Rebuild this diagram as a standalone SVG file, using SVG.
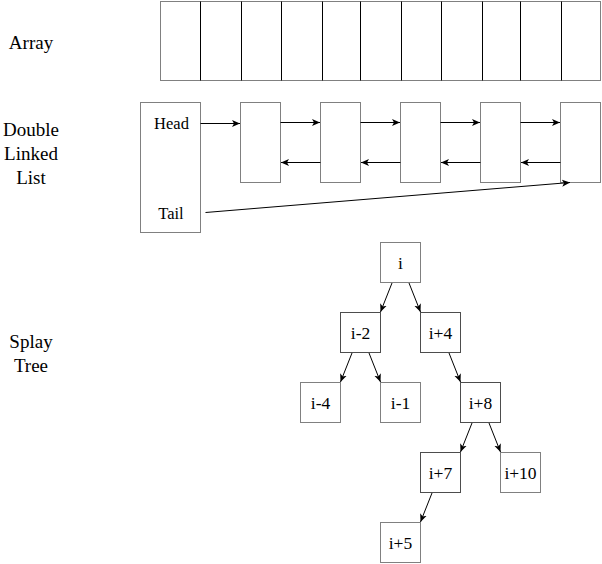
<svg xmlns="http://www.w3.org/2000/svg" width="602" height="564" viewBox="0 0 602 564">
<style>
  .box{fill:#fff;stroke:#808080;stroke-width:1}
  .dark{stroke:#4d4d4d}
  .div{stroke:#000;stroke-width:1}
  .edge{fill:none;stroke:#000;stroke-width:1;marker-end:url(#arr)}
  text{font-family:'Liberation Serif','Times New Roman',serif;fill:#000;text-anchor:middle}
  .lbl{font-size:19px}
  .ht{font-size:16.5px}
  .tn{font-size:17.5px}
</style>
<defs>
  <marker id="arr" markerUnits="userSpaceOnUse" markerWidth="10" markerHeight="10" viewBox="0 0 10 10" refX="8" refY="5" orient="auto">
    <path d="M0,1.5 L8,5 L0,8.5 L2,5 Z" fill="#000"/>
  </marker>
</defs>
<rect width="602" height="564" fill="#fff"/>

<g id="labels">
  <text class="lbl" x="31" y="49">Array</text>
  <text class="lbl" x="31" y="136">Double</text>
  <text class="lbl" x="31" y="160">Linked</text>
  <text class="lbl" x="31" y="184">List</text>
  <text class="lbl" x="31" y="348">Splay</text>
  <text class="lbl" x="31" y="372">Tree</text>
</g>

<g id="array">
  <rect class="box" x="160.5" y="1.5" width="440" height="79"/>
  <line class="div" x1="200.5" y1="1.5" x2="200.5" y2="80.5"/>
  <line class="div" x1="241.5" y1="1.5" x2="241.5" y2="80.5"/>
  <line class="div" x1="281.5" y1="1.5" x2="281.5" y2="80.5"/>
  <line class="div" x1="322.5" y1="1.5" x2="322.5" y2="80.5"/>
  <line class="div" x1="360.5" y1="1.5" x2="360.5" y2="80.5"/>
  <line class="div" x1="401.5" y1="1.5" x2="401.5" y2="80.5"/>
  <line class="div" x1="441.5" y1="1.5" x2="441.5" y2="80.5"/>
  <line class="div" x1="482.5" y1="1.5" x2="482.5" y2="80.5"/>
  <line class="div" x1="520.5" y1="1.5" x2="520.5" y2="80.5"/>
  <line class="div" x1="561.5" y1="1.5" x2="561.5" y2="80.5"/>
</g>

<g id="list-head">
  <rect class="box" x="140.5" y="102.5" width="60" height="130"/>
  <text class="ht" x="171.5" y="128.5">Head</text>
  <text class="ht" x="171" y="218.5">Tail</text>
</g>
<g id="list-n1"><rect class="box" x="240.5" y="102.5" width="40" height="80"/></g>
<g id="list-n2"><rect class="box" x="320.5" y="102.5" width="40" height="80"/></g>
<g id="list-n3"><rect class="box" x="400.5" y="102.5" width="40" height="80"/></g>
<g id="list-n4"><rect class="box" x="480.5" y="102.5" width="40" height="80"/></g>
<g id="list-n5"><rect class="box" x="560.5" y="102.5" width="40" height="80"/></g>

<g id="tree-i"><rect class="box" x="380.5" y="242.5" width="40" height="40"/><text class="tn" x="400.5" y="268.5">i</text></g>
<g id="tree-im2"><rect class="box dark" x="340.5" y="312.5" width="40" height="40"/><text class="tn" x="360.5" y="338.5">i-2</text></g>
<g id="tree-ip4"><rect class="box dark" x="420.5" y="312.5" width="40" height="40"/><text class="tn" x="440.5" y="338.5">i+4</text></g>
<g id="tree-im4"><rect class="box" x="300.5" y="382.5" width="40" height="40"/><text class="tn" x="320.5" y="408.5">i-4</text></g>
<g id="tree-im1"><rect class="box" x="380.5" y="382.5" width="40" height="40"/><text class="tn" x="400.5" y="408.5">i-1</text></g>
<g id="tree-ip8"><rect class="box dark" x="460.5" y="382.5" width="40" height="40"/><text class="tn" x="480.5" y="408.5">i+8</text></g>
<g id="tree-ip7"><rect class="box dark" x="420.5" y="452.5" width="40" height="40"/><text class="tn" x="440.5" y="478.5">i+7</text></g>
<g id="tree-ip10"><rect class="box" x="500.5" y="452.5" width="40" height="40"/><text class="tn" x="520.5" y="478.5">i+10</text></g>
<g id="tree-ip5"><rect class="box" x="380.5" y="522.5" width="40" height="40"/><text class="tn" x="400.5" y="548.5">i+5</text></g>

<g id="connectors">
  <line class="edge" x1="200.5" y1="123.5" x2="240" y2="123.5"/>
  <line class="edge" x1="280.5" y1="122.5" x2="320" y2="122.5"/>
  <line class="edge" x1="360.5" y1="122.5" x2="400" y2="122.5"/>
  <line class="edge" x1="440.5" y1="122.5" x2="480" y2="122.5"/>
  <line class="edge" x1="520.5" y1="122.5" x2="560" y2="122.5"/>
  <line class="edge" x1="320.5" y1="162.5" x2="281" y2="162.5"/>
  <line class="edge" x1="400.5" y1="162.5" x2="361" y2="162.5"/>
  <line class="edge" x1="480.5" y1="162.5" x2="441" y2="162.5"/>
  <line class="edge" x1="560.5" y1="162.5" x2="521" y2="162.5"/>
  <line class="edge" x1="205.5" y1="212.5" x2="570" y2="182.5"/>

  <line class="edge" x1="392" y1="283" x2="380.5" y2="312"/>
  <line class="edge" x1="409" y1="283" x2="420.5" y2="312"/>
  <line class="edge" x1="352" y1="353" x2="340.5" y2="382"/>
  <line class="edge" x1="369" y1="353" x2="380.5" y2="382"/>
  <line class="edge" x1="449" y1="353" x2="460.5" y2="382"/>
  <line class="edge" x1="472" y1="423" x2="460.5" y2="452"/>
  <line class="edge" x1="489" y1="423" x2="500.5" y2="452"/>
  <line class="edge" x1="432" y1="493" x2="420.5" y2="522"/>
</g>
</svg>
